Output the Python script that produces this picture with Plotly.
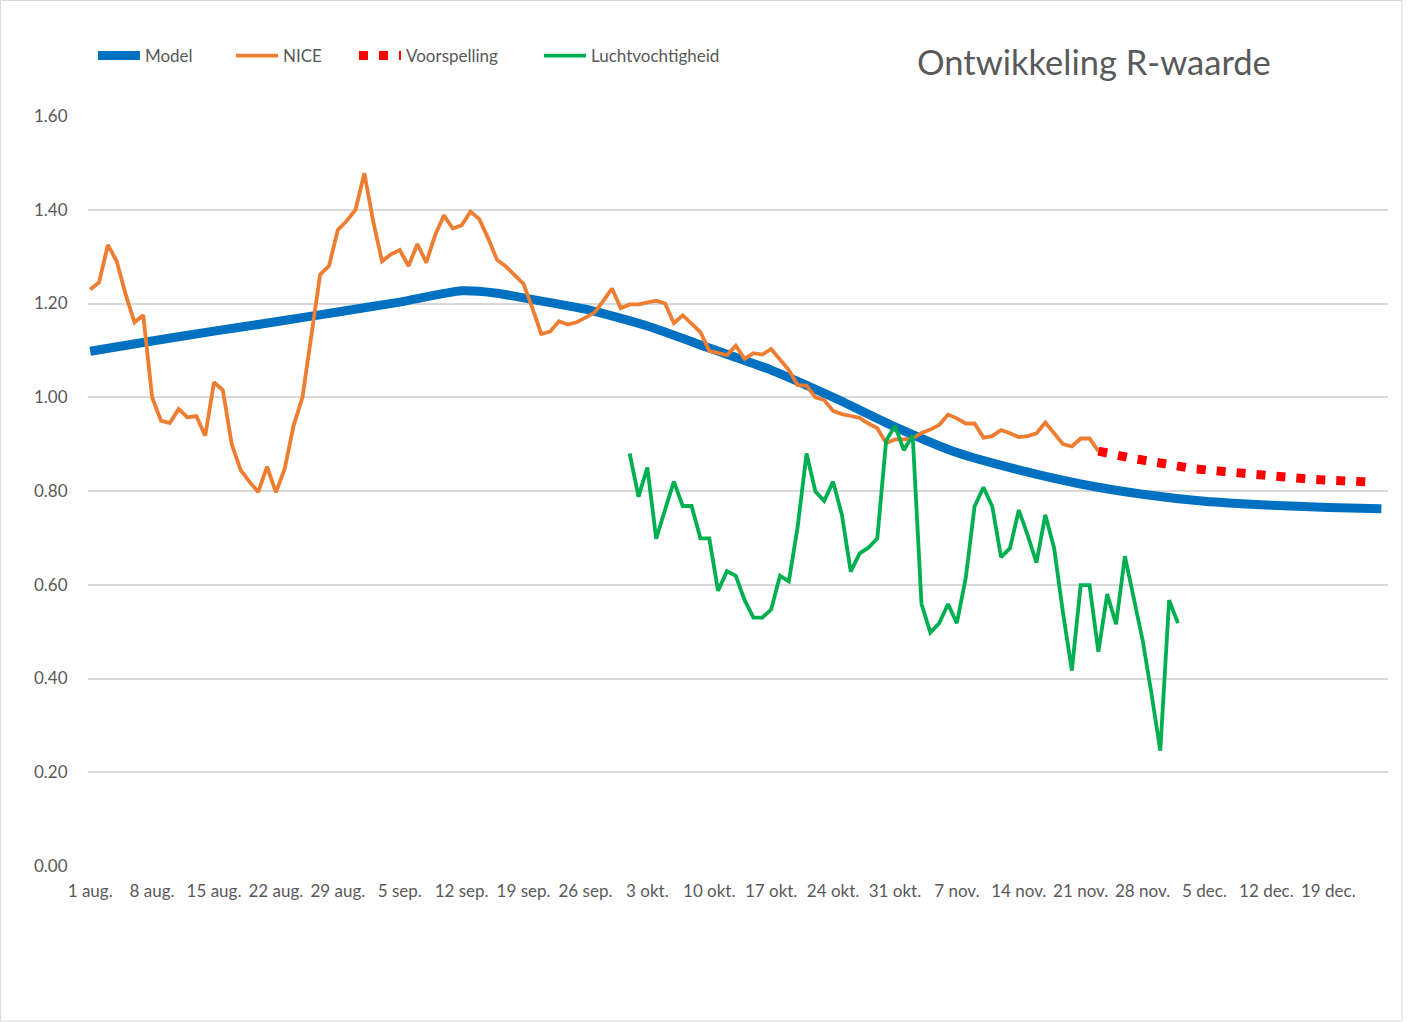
import datetime as dt
import plotly.graph_objects as go

# ---------------- data ----------------
nice_values = [
    1.23, 1.245, 1.325, 1.29, 1.22, 1.16, 1.175, 1.0, 0.95, 0.945,
    0.975, 0.957, 0.96, 0.918, 1.032, 1.015, 0.90, 0.845, 0.82, 0.798,
    0.852, 0.797, 0.848, 0.94, 1.0, 1.13, 1.262, 1.28, 1.357, 1.376,
    1.40, 1.478, 1.375, 1.29, 1.305, 1.314, 1.28, 1.327, 1.287, 1.346,
    1.388, 1.36, 1.367, 1.396, 1.38, 1.339, 1.293, 1.279, 1.26, 1.242,
    1.19, 1.135, 1.14, 1.162, 1.155, 1.16, 1.17, 1.18, 1.205, 1.232,
    1.19, 1.198, 1.198, 1.202, 1.206, 1.2, 1.158, 1.175, 1.158, 1.139,
    1.099, 1.095, 1.09, 1.11, 1.082, 1.094, 1.091, 1.103, 1.08, 1.058,
    1.026, 1.025, 1.0, 0.994, 0.971, 0.964, 0.96, 0.956, 0.944, 0.934,
    0.902, 0.91, 0.91, 0.912, 0.924, 0.931, 0.941, 0.963, 0.955, 0.944,
    0.944, 0.914, 0.917, 0.93, 0.923, 0.915, 0.917, 0.923, 0.946, 0.924,
    0.90, 0.895, 0.912, 0.912, 0.885,
]
nice_start = "2020-08-01"

humidity_values = [
    0.88, 0.788, 0.85, 0.698, 0.76, 0.82, 0.768, 0.768, 0.699, 0.699,
    0.587, 0.629, 0.619, 0.567, 0.53, 0.53, 0.547, 0.619, 0.607, 0.724,
    0.88, 0.799, 0.779, 0.82, 0.749, 0.628, 0.667, 0.679, 0.699, 0.907,
    0.939, 0.887, 0.919, 0.559, 0.498, 0.518, 0.559, 0.518, 0.614, 0.767,
    0.808, 0.767, 0.659, 0.678, 0.759, 0.706, 0.647, 0.749, 0.678, 0.54,
    0.417, 0.599, 0.599, 0.457, 0.58, 0.516, 0.661, 0.567, 0.482, 0.368,
    0.246, 0.567, 0.518,
]
humidity_start = "2020-10-01"

forecast_values = [
    0.885, 0.880, 0.877, 0.873, 0.869, 0.866, 0.862, 0.860, 0.857, 0.853,
    0.850, 0.847, 0.845, 0.843, 0.841, 0.839, 0.837, 0.835, 0.834, 0.833,
    0.831, 0.829, 0.828, 0.826, 0.825, 0.824, 0.823, 0.822, 0.822, 0.821,
    0.820, 0.819,
]
forecast_start = "2020-11-23"

model_dates = [
    "2020-08-01", "2020-08-08", "2020-08-15", "2020-08-22", "2020-08-29",
    "2020-09-05", "2020-09-12", "2020-09-16", "2020-09-19", "2020-09-26",
    "2020-10-03", "2020-10-10", "2020-10-17", "2020-10-24", "2020-10-31",
    "2020-11-07", "2020-11-14", "2020-11-21", "2020-11-28", "2020-12-05",
    "2020-12-12", "2020-12-19", "2020-12-25",
]
model_values = [
    1.098, 1.12, 1.141, 1.161, 1.182,
    1.203, 1.227, 1.222, 1.212, 1.188,
    1.152, 1.105, 1.058, 1.0, 0.937,
    0.882, 0.845, 0.815, 0.793, 0.778,
    0.770, 0.765, 0.762,
]

tick_dates = [
    "2020-08-01", "2020-08-08", "2020-08-15", "2020-08-22", "2020-08-29",
    "2020-09-05", "2020-09-12", "2020-09-19", "2020-09-26", "2020-10-03",
    "2020-10-10", "2020-10-17", "2020-10-24", "2020-10-31", "2020-11-07",
    "2020-11-14", "2020-11-21", "2020-11-28", "2020-12-05", "2020-12-12",
    "2020-12-19",
]
tick_labels = [
    "1 aug.", "8 aug.", "15 aug.", "22 aug.", "29 aug.", "5 sep.", "12 sep.",
    "19 sep.", "26 sep.", "3 okt.", "10 okt.", "17 okt.", "24 okt.", "31 okt.",
    "7 nov.", "14 nov.", "21 nov.", "28 nov.", "5 dec.", "12 dec.", "19 dec.",
]


def daily_dates(first, n):
    d0 = dt.date.fromisoformat(first)
    return [(d0 + dt.timedelta(days=i)).isoformat() for i in range(n)]


# ---------------- figure ----------------
GREY = "#595959"
FONT = "Lato"

fig = go.Figure()
fig.add_trace(go.Scatter(
    x=model_dates, y=model_values, name="Model", mode="lines",
    line=dict(color="#0070C0", width=9, shape="spline", smoothing=0.6),
    legend="legend",
))
fig.add_trace(go.Scatter(
    x=daily_dates(nice_start, len(nice_values)), y=nice_values, name="NICE",
    mode="lines", line=dict(color="#ED7D31", width=3.8),
    legend="legend2",
))
fig.add_trace(go.Scatter(
    x=daily_dates(forecast_start, len(forecast_values)), y=forecast_values,
    name="Voorspelling", mode="lines",
    line=dict(color="#FF0000", width=9, dash="9px,11px"),
    legend="legend3",
))
fig.add_trace(go.Scatter(
    x=daily_dates(humidity_start, len(humidity_values)), y=humidity_values,
    name="Luchtvochtigheid", mode="lines",
    line=dict(color="#00B050", width=3.8),
    legend="legend4",
))


def leg(xpos):
    return dict(
        orientation="h", x=xpos, y=1.08, xanchor="left", yanchor="middle",
        font=dict(size=17, color=GREY, family=FONT),
        itemwidth=42, bgcolor="rgba(0,0,0,0)", borderwidth=0,
    )


fig.update_layout(
    width=1408, height=1022,
    margin=dict(l=88, r=20, t=116, b=156),
    paper_bgcolor="white", plot_bgcolor="white",
    font=dict(family=FONT, color=GREY, size=17),
    showlegend=True,
    legend=leg(0.0038),
    legend2=leg(0.110),
    legend3=leg(0.2046),
    legend4=leg(0.3469),
    annotations=[dict(
        text="Ontwikkeling R-waarde", xref="paper", yref="paper",
        x=0.774, y=1.072, xanchor="center", yanchor="middle",
        showarrow=False, font=dict(size=34.5, color=GREY, family=FONT),
    )],
    shapes=[dict(
        type="rect", xref="paper", yref="paper",
        x0=-0.0673, x1=1.0108, y0=-0.2067, y1=1.1540,
        line=dict(color="#D9D9D9", width=1), layer="below",
    )],
)

fig.update_xaxes(
    type="date",
    range=["2020-07-31 18:00", "2020-12-25 18:00"],
    tickvals=tick_dates, ticktext=tick_labels,
    showgrid=False, showline=False, zeroline=False,
    ticks="outside", ticklen=10, tickcolor="rgba(0,0,0,0)",
    tickfont=dict(size=17, color=GREY, family=FONT),
)
fig.update_yaxes(
    range=[0, 1.6], dtick=0.2, tick0=0, tickformat=".2f",
    showgrid=True, gridcolor="#D9D9D9", gridwidth=1.5,
    zeroline=False, showline=False,
    ticks="outside", ticklen=16, tickcolor="rgba(0,0,0,0)",
    tickfont=dict(size=17, color=GREY, family=FONT),
)

fig.write_html(
    "out.html",
    config={"displayModeBar": False},
    post_script="document.body.style.margin='0px';",
)
